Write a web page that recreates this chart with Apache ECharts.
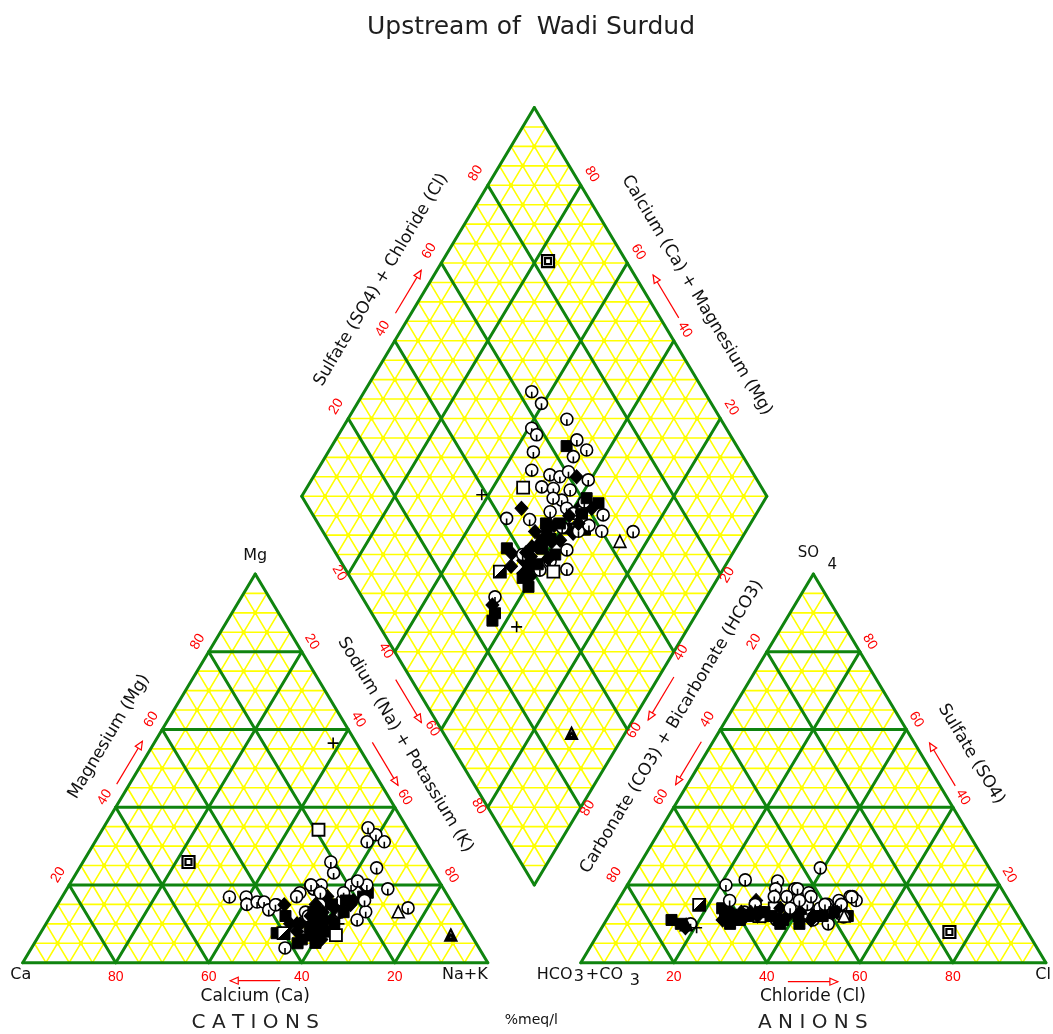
<!DOCTYPE html>
<html>
<head>
<meta charset="utf-8">
<title>Upstream of Wadi Surdud - Piper diagram</title>
<script src="https://cdn.jsdelivr.net/npm/echarts@6/dist/echarts.min.js"></script>
<style>
  html, body { margin: 0; padding: 0; background: #ffffff; }
  #chart { width: 1053px; height: 1034px; }
</style>
</head>
<body>
<div id="chart"></div>
<script>
// ---- Sample chemistry (% meq/l) ----
// marker style of each sample
const sampleSymbol = [
  'circ','circ','circ','circ','circ','fsq','circ','circ','circ','circ',
  'circ','circ','circ','circ','fdia','circ','osq','circ','circ','circ',
  'circ','circ','fdia','fsq','fdia','circ','circ','fdia','circ','circ',
  'circ','circ','fdia','fsq','fdia','fsq','fdia','fsq','fdia','fsq',
  'circ','tri','fsq','fdia','circ','fdia','fsq','fdia','fsq','fdia',
  'hsq','circ','circ','osq','circ','circ','fsq','plus','xsq','ftri',
  'plus','fdia','fsq','circ','fdia','fsq','circ','fdia','circ','fsq',
  'circ','fsq','fdia','circ','circ','circ','fdia','fsq','fdia','fsq',
  'fdia','fsq','fdia','fsq','fdia','fsq','fdia','fsq'
];
// sodium + potassium
const sodiumPotassium = [
  36.0,39.6,47.1,40.7,42.6,50.5,51.9,55.3,53.3,44.1,
  46.1,50.6,53.0,54.2,56.6,59.5,46.5,50.4,53.1,56.9,
  56.4,54.3,61.2,64.7,63.9,67.2,46.9,48.8,55.4,58.5,
  60.6,62.2,54.7,57.2,59.6,61.1,63.1,65.2,61.2,57.4,
  75.8,74.2,50.8,52.5,63.9,55.9,57.8,59.4,60.4,57.6,
  52.3,60.7,61.8,63.8,66.4,54.5,56.6,63.0,22.7,88.5,
  38.5,58.0,59.0,60.0,56.0,62.0,64.0,57.0,61.5,58.5,
  65.5,57.0,55.0,52.0,55.0,69.0,57.0,59.5,60.0,62.5,
  55.5,58.0,61.0,56.0,63.0,59.0,54.0,61.5
];
// magnesium
const magnesium = [
  16.9,16.9,14.9,15.0,15.6,12.0,20.0,23.1,25.9,15.6,
  13.6,18.0,19.0,20.0,16.0,32.9,34.2,17.0,19.0,34.7,
  15.0,13.0,14.0,17.0,19.5,13.1,14.9,14.9,12.0,31.1,
  20.0,31.1,10.0,9.0,11.0,8.0,16.0,18.0,6.0,12.0,
  14.1,13.1,7.6,10.0,24.4,12.0,9.0,8.0,5.1,11.0,
  7.6,16.0,13.0,7.1,11.0,3.8,5.0,10.0,25.9,7.1,
  56.5,13.0,15.0,18.0,14.0,10.0,20.0,17.0,21.0,7.0,
  16.0,6.0,8.0,20.0,18.0,19.0,12.0,10.0,14.0,13.0,
  15.0,9.0,11.0,13.0,15.0,8.0,10.0,16.0
];
// sulfate + chloride
const sulfateChloride = [
  62.9,63.5,66.9,58.2,58.4,63.4,66.4,67.2,63.5,55.5,
  52.8,56.1,58.0,60.5,61.6,63.7,48.7,52.8,55.1,58.5,
  55.4,53.8,58.5,62.9,60.8,62.4,41.2,45.7,51.4,55.4,
  56.2,58.2,45.6,46.0,47.9,52.8,53.6,56.6,49.9,47.9,
  66.7,62.6,37.4,37.8,50.1,39.4,39.7,38.7,37.1,37.7,
  32.9,41.7,45.0,44.4,47.6,28.6,26.5,29.4,83.2,27.5,
  38.9,50.5,48.0,52.0,43.0,47.0,55.0,41.5,60.0,45.0,
  58.0,25.0,27.0,46.0,40.0,60.0,44.0,42.0,55.0,58.0,
  41.0,37.0,45.0,49.0,56.0,52.0,36.0,61.0
];
// sulfate
const sulfate = [
  14,16,17,13,14,12,17,16,15,19,
  17,19,18,15,13,24.4,14,21,13,12,
  11,12,12,12,13,11.8,20,16,19,14,
  15,10,12,13,11,12,13,12,14,10,
  16.9,12,14,12,17,12,11,13,10,12,
  14.9,13,15,12,11,10,10,9,7.9,9.7,
  14,12,11,14,13,12,16,12,14,13,
  17,11,9,21.3,16,15,12,12,11,12,
  13,12,13,11,12,10,11,13
];
// percentage ticks printed on every side
const tickValues = [20, 40, 60, 80];
const fineSteps = [5,10,15,20,25,30,35,40,45,50,55,60,65,70,75,80,85,90,95];

// ---- Piper geometry (side 100, gap 20 between the two triangles) ----
const SIDE = 100, GAP = 20, H = SIDE * Math.sqrt(3) / 2;
const ANION_X0 = SIDE + GAP;
const DIAMOND_X0 = (SIDE + GAP) / 2, DIAMOND_Y0 = H * (1 + GAP / SIDE);

function cationXY(naK, mg) { return [naK + mg / 2, mg * H / 100]; }
function anionXY(cl, so4) { return [ANION_X0 + cl + so4 / 2, so4 * H / 100]; }
function diamondXY(naK, so4cl) {
  return [DIAMOND_X0 + (naK + so4cl) / 100 * SIDE / 2, DIAMOND_Y0 + (so4cl - naK) / 100 * H];
}
function lerp(P, Q, t) { return [P[0] + (Q[0] - P[0]) * t, P[1] + (Q[1] - P[1]) * t]; }

function triangleVertices(ox) { return { A: [ox, 0], B: [ox + SIDE, 0], C: [ox + SIDE / 2, H] }; }
function addTriangleLines(ox, values, out, withEdges) {
  const { A, B, C } = triangleVertices(ox);
  values.forEach(v => {
    const t = v / 100;
    out.push([...lerp(A, C, t), ...lerp(B, C, t)]);
    out.push([...lerp(A, B, t), ...lerp(B, C, 1 - t)]);
    out.push([...lerp(A, B, t), ...lerp(A, C, t)]);
  });
  if (withEdges) { out.push([...A, ...B], [...B, ...C], [...C, ...A]); }
}
function addDiamondLines(values, out, withEdges, withHorizontals) {
  values.forEach(v => {
    out.push([...diamondXY(v, 0), ...diamondXY(v, 100)]);
    out.push([...diamondXY(0, v), ...diamondXY(100, v)]);
  });
  if (withHorizontals) {
    for (let c = -95; c <= 95; c += 5) {
      if (c >= 0) out.push([...diamondXY(0, c), ...diamondXY(100 - c, 100)]);
      else out.push([...diamondXY(-c, 0), ...diamondXY(100, 100 + c)]);
    }
  }
  if (withEdges) {
    const a = diamondXY(0, 0), b = diamondXY(100, 0), c = diamondXY(100, 100), d = diamondXY(0, 100);
    out.push([...a, ...b], [...b, ...c], [...c, ...d], [...d, ...a]);
  }
}

const fineLines = [], majorLines = [], gridDots = [];
addTriangleLines(0, fineSteps, fineLines, false);
addTriangleLines(ANION_X0, fineSteps, fineLines, false);
addDiamondLines(fineSteps, fineLines, false, true);
addTriangleLines(0, tickValues, majorLines, true);
addTriangleLines(ANION_X0, tickValues, majorLines, true);
addDiamondLines(tickValues, majorLines, true, false);

for (let i = 5; i < 100; i += 5) {
  for (let j = 5; i + j < 100; j += 5) {
    if (i % 10 === 0 && j % 10 === 0) continue;
    gridDots.push(cationXY(j, i));
    gridDots.push(anionXY(j, i));
  }
}
for (let p = 5; p < 100; p += 5) {
  for (let q = 5; q < 100; q += 5) {
    if (p % 10 === 0 && q % 10 === 0) continue;
    gridDots.push(diamondXY(p, q));
  }
}

// ---- marker styles ----
const halfFill = new echarts.graphic.LinearGradient(0, 0, 1, 1, [
  { offset: 0, color: '#ffffff' }, { offset: 0.5, color: '#ffffff' },
  { offset: 0.5, color: '#000000' }, { offset: 1, color: '#000000' }
]);
const MARKERS = {
  circ: { symbol: 'path://M0,-6A6,6,0,1,1,0,6A6,6,0,1,1,0,-6ZM0,0L0,6', size: 12, fill: '#ffffff', width: 1.6 },
  fsq:  { symbol: 'rect', size: 11, fill: '#000000', width: 1 },
  fdia: { symbol: 'diamond', size: [13, 14], fill: '#000000', width: 1 },
  osq:  { symbol: 'rect', size: 12, fill: '#ffffff', width: 1.8 },
  tri:  { symbol: 'triangle', size: 12, fill: '#ffffff', width: 1.6 },
  ftri: { symbol: 'path://M0,-6L6,5L-6,5Z M0,-1L3,3L-3,3Z', size: 11, fill: '#ffffff', width: 2.2 },
  plus: { symbol: 'path://M-6,0L6,0M0,-6L0,6', size: 11, fill: 'transparent', width: 1.6 },
  xsq:  { symbol: 'path://M-6,-6L6,-6L6,6L-6,6Z M-3,-3L3,-3L3,3L-3,3Z', size: 12, fill: '#ffffff', width: 2.2 },
  hsq:  { symbol: 'rect', size: 12, fill: halfFill, width: 1.8 }
};

function sampleItem(xy, kind) {
  const m = MARKERS[kind];
  return {
    value: xy, symbol: m.symbol, symbolSize: m.size,
    itemStyle: { color: m.fill, borderColor: '#000000', borderWidth: m.width, opacity: 1 }
  };
}
const samplePoints = [];
sampleSymbol.forEach((kind, i) => {
  const naK = sodiumPotassium[i], mg = magnesium[i];
  const sc = sulfateChloride[i], so4 = sulfate[i];
  const cl = sc - so4;
  samplePoints.push(sampleItem(cationXY(naK, mg), kind));
  samplePoints.push(sampleItem(anionXY(cl, so4), kind));
  samplePoints.push(sampleItem(diamondXY(naK, sc), kind));
});

function segmentRenderer(color, width) {
  return function (params, api) {
    const a = api.coord([api.value(0), api.value(1)]);
    const b = api.coord([api.value(2), api.value(3)]);
    return {
      type: 'line',
      shape: { x1: a[0], y1: a[1], x2: b[0], y2: b[1] },
      style: { stroke: color, lineWidth: width, lineCap: 'round' }
    };
  };
}

const YELLOW = '#ffff00', GREEN = '#0f840f', RED = '#ff0000';

const chart = echarts.init(document.getElementById('chart'), null, { renderer: 'canvas' });
chart.setOption({
  animation: false,
  backgroundColor: '#ffffff',
  grid: { left: 22.7, top: 65, width: 1023.2, height: 897.7 },
  xAxis: { type: 'value', min: 0, max: 220, show: false },
  yAxis: { type: 'value', min: 0, max: 200, show: false },
  series: [
    {
      name: 'fine grid', type: 'custom', z: 1, silent: true,
      dimensions: ['x1', 'y1', 'x2', 'y2'], encode: { x: [0, 2], y: [1, 3] },
      renderItem: segmentRenderer(YELLOW, 1.6), data: fineLines
    },
    {
      name: 'grid dots', type: 'scatter', z: 2, silent: true,
      symbol: 'circle', symbolSize: 4.5, itemStyle: { color: YELLOW, opacity: 1 }, data: gridDots
    },
    {
      name: 'major grid', type: 'custom', z: 3, silent: true,
      dimensions: ['x1', 'y1', 'x2', 'y2'], encode: { x: [0, 2], y: [1, 3] },
      renderItem: segmentRenderer(GREEN, 3), data: majorLines
    },
    {
      name: 'samples', type: 'scatter', z: 5, silent: true, data: samplePoints
    }
  ]
});

// ---- annotation layer (titles, ticks, arrows) ----
const px = xy => chart.convertToPixel({ gridIndex: 0 }, xy);
const DEG = Math.PI / 180;
const SIDE_ANGLE = 59 * DEG;
const graphics = [];

function text(x, y, str, opts) {
  const o = opts || {};
  graphics.push({
    type: 'text', x: x, y: y, rotation: o.rotation || 0, silent: true, z: 20,
    style: {
      text: str, font: o.font || '17px "DejaVu Sans"', fill: o.fill || '#111111',
      align: o.align || 'center', verticalAlign: 'middle',
      textAlign: o.align || 'center', textVerticalAlign: 'middle'
    }
  });
}

// tick labels: point on the side, pixel offset, rotation
function ticks(pointFn, dx, dy, rot) {
  tickValues.forEach(v => {
    const p = px(pointFn(v));
    text(p[0] + dx, p[1] + dy, String(v), { font: '14px "Liberation Sans"', fill: RED, rotation: rot });
  });
}
// cation triangle
ticks(v => cationXY(100 - v, 0), 0, 14, 0);
ticks(v => cationXY(0, v), -11, -10, SIDE_ANGLE);
ticks(v => cationXY(v, 100 - v), 10, -10, -SIDE_ANGLE);
// anion triangle
ticks(v => anionXY(v, 0), 0, 14, 0);
ticks(v => anionXY(0, 100 - v), -13, -10, SIDE_ANGLE);
ticks(v => anionXY(100 - v, v), 10, -10, -SIDE_ANGLE);
// diamond
ticks(v => diamondXY(0, v), -12, -12, SIDE_ANGLE);
ticks(v => diamondXY(100 - v, 100), 11, -11, -SIDE_ANGLE);
ticks(v => diamondXY(v, 0), -9, -1, -SIDE_ANGLE);
ticks(v => diamondXY(100, 100 - v), 7, 1, SIDE_ANGLE);

// helpers along a side: t = fraction from A to B, d = outward pixel distance
function sideFrame(A, B, inside) {
  const a = px(A), b = px(B), c = px(inside);
  const dx = b[0] - a[0], dy = b[1] - a[1], len = Math.hypot(dx, dy);
  const u = [dx / len, dy / len];
  let n = [u[1], -u[0]];
  const mid = [(a[0] + b[0]) / 2, (a[1] + b[1]) / 2];
  if ((c[0] - mid[0]) * n[0] + (c[1] - mid[1]) * n[1] > 0) n = [-n[0], -n[1]];
  return {
    at: (t, d) => [a[0] + dx * t + n[0] * d, a[1] + dy * t + n[1] * d],
    u: u
  };
}
function arrow(frame, t, d, towardB) {
  const c = frame.at(t, d), L = 50;
  const u = towardB ? frame.u : [-frame.u[0], -frame.u[1]];
  const tail = [c[0] - u[0] * L / 2, c[1] - u[1] * L / 2];
  const tip = [c[0] + u[0] * L / 2, c[1] + u[1] * L / 2];
  const back = [tip[0] - u[0] * 8, tip[1] - u[1] * 8];
  const nrm = [-u[1], u[0]];
  graphics.push({
    type: 'polyline', silent: true, z: 20,
    shape: { points: [tail, tip] }, style: { stroke: RED, lineWidth: 1.2, fill: null }
  });
  graphics.push({
    type: 'polygon', silent: true, z: 20,
    shape: { points: [tip, [back[0] + nrm[0] * 3.5, back[1] + nrm[1] * 3.5], [back[0] - nrm[0] * 3.5, back[1] - nrm[1] * 3.5]] },
    style: { stroke: RED, lineWidth: 1.2, fill: '#ffffff' }
  });
}

const cat = triangleVertices(0), ani = triangleVertices(ANION_X0);
const catCentre = [SIDE / 2, H / 3], aniCentre = [ANION_X0 + SIDE / 2, H / 3];
const dL = diamondXY(0, 0), dB = diamondXY(100, 0), dR = diamondXY(100, 100), dT = diamondXY(0, 100);
const dCentre = diamondXY(50, 50);

const catLeft = sideFrame(cat.A, cat.C, catCentre);
const catRight = sideFrame(cat.C, cat.B, catCentre);
const catBase = sideFrame(cat.A, cat.B, catCentre);
const aniLeft = sideFrame(ani.A, ani.C, aniCentre);
const aniRight = sideFrame(ani.C, ani.B, aniCentre);
const aniBase = sideFrame(ani.A, ani.B, aniCentre);
const dUL = sideFrame(dL, dT, dCentre);
const dUR = sideFrame(dT, dR, dCentre);
const dLL = sideFrame(dL, dB, dCentre);
const dLR = sideFrame(dR, dB, dCentre);

// side titles
function sideTitle(frame, t, d, str, rot) { const p = frame.at(t, d); text(p[0], p[1], str, { rotation: rot }); }
sideTitle(catLeft, 0.526, 42, 'Magnesium (Mg)', SIDE_ANGLE);
sideTitle(catRight, 0.494, 41, 'Sodium (Na) + Potassium (K)', -SIDE_ANGLE);
sideTitle(aniLeft, 0.55, 43, 'Carbonate (CO3) + Bicarbonate (HCO3)', SIDE_ANGLE);
sideTitle(aniRight, 0.52, 43, 'Sulfate (SO4)', -SIDE_ANGLE);
sideTitle(dUL, 0.5, 43, 'Sulfate (SO4) + Chloride (Cl)', SIDE_ANGLE);
sideTitle(dUR, 0.54, 43, 'Calcium (Ca) + Magnesium (Mg)', -SIDE_ANGLE);
sideTitle(catBase, 0.5, 34, 'Calcium (Ca)', 0);
sideTitle(aniBase, 0.499, 34, 'Chloride (Cl)', 0);
(function () {
  const p1 = catBase.at(0.5, 60), p2 = aniBase.at(0.499, 60);
  text(p1[0], p1[1], 'C A T I O N S', { font: '20px "DejaVu Sans"', fill: '#222222' });
  text(p2[0], p2[1], 'A N I O N S', { font: '20px "DejaVu Sans"', fill: '#222222' });
})();

// direction arrows
arrow(catLeft, 0.5, 11, true);
arrow(catRight, 0.507, 14, true);
arrow(catBase, 0.5, 18, false);
arrow(aniLeft, 0.5, 10, false);
arrow(aniRight, 0.507, 13, false);
arrow(aniBase, 0.499, 19, true);
arrow(dUL, 0.508, 13.5, true);
arrow(dUR, 0.507, 16, false);
arrow(dLL, 0.509, 13.5, true);
arrow(dLR, 0.503, 13, true);

// vertex names
(function () {
  const ca = px(cat.A), nk = px(cat.B), mg = px(cat.C);
  const hc = px(ani.A), cl = px(ani.B), so = px(ani.C);
  const vf = '16px "DejaVu Sans"';
  text(ca[0] - 2, ca[1] + 12, 'Ca', { font: vf });
  text(nk[0] - 23, nk[1] + 12, 'Na+K', { font: vf });
  text(mg[0], mg[1] - 18, 'Mg', { font: vf });
  text(hc[0] - 44, hc[1] + 12, 'HCO', { font: vf, align: 'left' });
  text(hc[0] - 7, hc[1] + 14, '3', { font: vf, align: 'left' });
  text(hc[0] + 5, hc[1] + 12, '+CO', { font: vf, align: 'left' });
  text(hc[0] + 49, hc[1] + 18, '3', { font: vf, align: 'left' });
  text(cl[0] + 5, cl[1] + 12, 'Cl', { font: vf, align: 'right' });
  text(so[0] - 5, so[1] - 21, 'SO', { font: '15px "DejaVu Sans"' });
  text(so[0] + 19, so[1] - 9, '4', { font: '15px "DejaVu Sans"' });
  const mid = [(nk[0] + hc[0]) / 2, nk[1] + 58];
  text(mid[0] - 3, mid[1], '%meq/l', { font: '14px "DejaVu Sans"', fill: '#111111' });
})();

// chart title
text(531, 27, 'Upstream of  Wadi Surdud', { font: '25px "DejaVu Sans"', fill: '#1e1e1e' });

chart.setOption({ graphic: { elements: graphics } });
</script>
</body>
</html>
